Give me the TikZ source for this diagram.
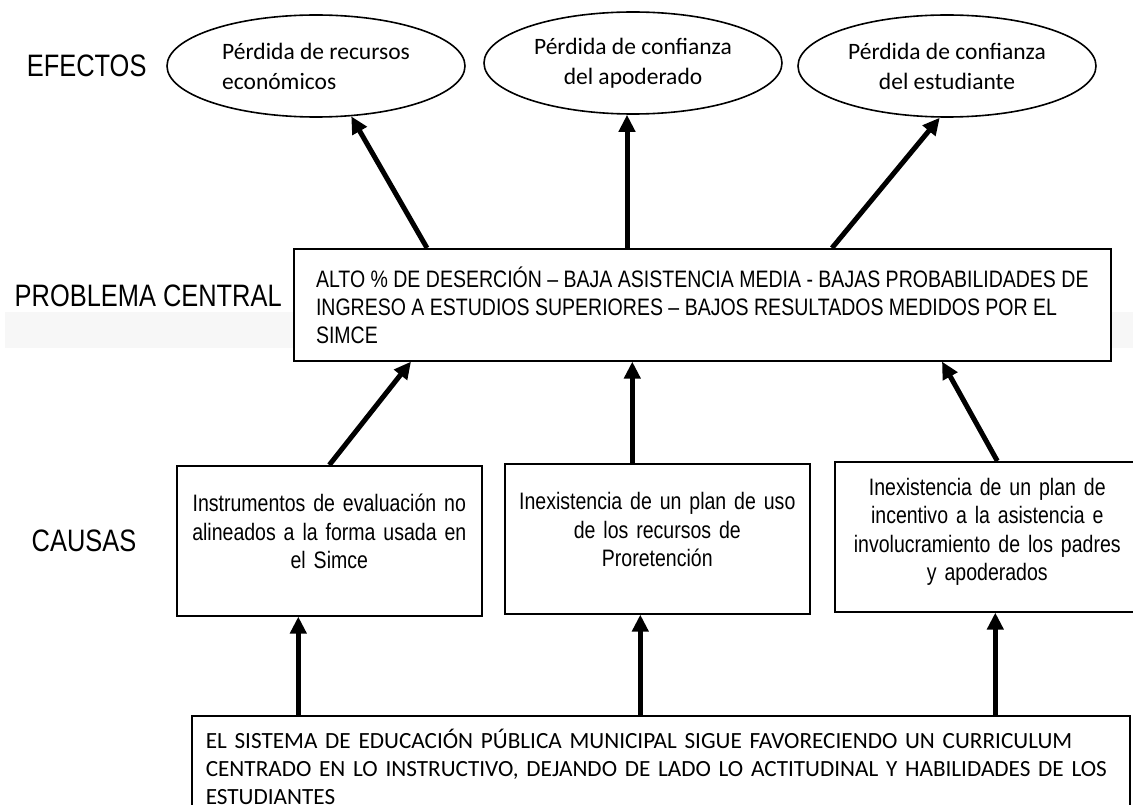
\documentclass[tikz,border=0pt]{standalone}
\usepackage{fontspec}
\setmainfont{Carlito}
\newfontfamily\arialn[FakeStretch=0.82]{Liberation Sans}
\usetikzlibrary{arrows.meta, shapes.geometric, positioning}

\begin{document}
\begin{tikzpicture}[x=1pt, y=-1pt, thick, effect node/.style={ellipse, draw, line width=1.6pt, minimum width=298pt, minimum height=102pt, font=\fontsize{23.5}{30}\selectfont}, cause node/.style={rectangle, draw, line width=1.6pt, anchor=north west, minimum width=305pt, minimum height=150pt, text width=285pt, align=center, font=\arialn\fontsize{23.8}{28.5}\selectfont}, side node/.style={font=\arialn\fontsize{31}{34}\selectfont}, arrow line/.style={line width=5pt, -{Triangle[width=16pt,length=17pt]}}]
\useasboundingbox (0,0) rectangle (1133,805);
\fill[gray!6] (5,312) rectangle (1133,348);
\node[effect node, align=left](perdida1) at (316,66) {Pérdida de recursos\\económicos};
\node[effect node, align=center](perdida2) at (633,63) {Pérdida de confianza\\del apoderado};
\node[effect node, align=center](perdida3) at (947,66) {Pérdida de confianza\\del estudiante};
\node[side node](efectos)[left=16pt of perdida1]{EFECTOS};
\node[draw, line width=1.6pt, fill=white, anchor=north west, minimum width=817pt, minimum height=112pt, align=left, font=\arialn\fontsize{23.8}{28}\selectfont](problema) at (293,248) {ALTO \% DE DESERCIÓN – BAJA ASISTENCIA MEDIA - BAJAS PROBABILIDADES DE\\INGRESO A ESTUDIOS SUPERIORES – BAJOS RESULTADOS MEDIDOS POR EL\\SIMCE};
\node[side node, anchor=west](central) at (11,296) {PROBLEMA CENTRAL};
\node[cause node](causa1) at (176,465) {Instrumentos de evaluación no\\alineados a la forma usada en\\el Simce\par\kern18pt};
\node[cause node](causa2) at (504,463) {Inexistencia de un plan de uso\\de los recursos de\\Proretención\par\kern18pt};
\node[cause node](causa3) at (834,461) {Inexistencia de un plan de\\incentivo a la asistencia e\\involucramiento de los padres\\y apoderados\par\kern10pt};
\node[side node](causas)[left=36pt of causa1]{CAUSAS};
\node[draw, line width=1.6pt, anchor=north west, text width=910pt, inner xsep=14pt, inner ysep=13pt, align=left, font=\fontsize{23.2}{28}\selectfont](sistema) at (191,715) {\mbox{EL SISTEMA DE EDUCACIÓN PÚBLICA MUNICIPAL SIGUE FAVORECIENDO UN CURRICULUM}\\\mbox{CENTRADO EN LO INSTRUCTIVO, DEJANDO DE LADO LO ACTITUDINAL Y HABILIDADES DE LOS}\\ESTUDIANTES};
% efectos
\draw[arrow line] ([xshift=134pt]problema.north west) -- (perdida1.-55);
\draw[arrow line] ([xshift=-6pt]perdida2.south |- problema.north) -- ([xshift=-6pt]perdida2.south);
\draw[arrow line] ([xshift=539pt]problema.north west) -- (perdida3.-98);
% causas
\draw[arrow line] (causa1.north) -- ([xshift=118pt]problema.south west);
\draw[arrow line] ([xshift=-25pt]causa2.north) -- ([xshift=-25pt]causa2.north |- problema.south);
\draw[arrow line] ([xshift=10pt]causa3.north) -- ([xshift=649pt]problema.south west);
\foreach \s/\d in {causa1/-31, causa2/-17, causa3/8}{
    \draw[arrow line] ([xshift=\d pt]\s.south |- sistema.north) -- ([xshift=\d pt]\s.south);}
\end{tikzpicture}
\end{document}
